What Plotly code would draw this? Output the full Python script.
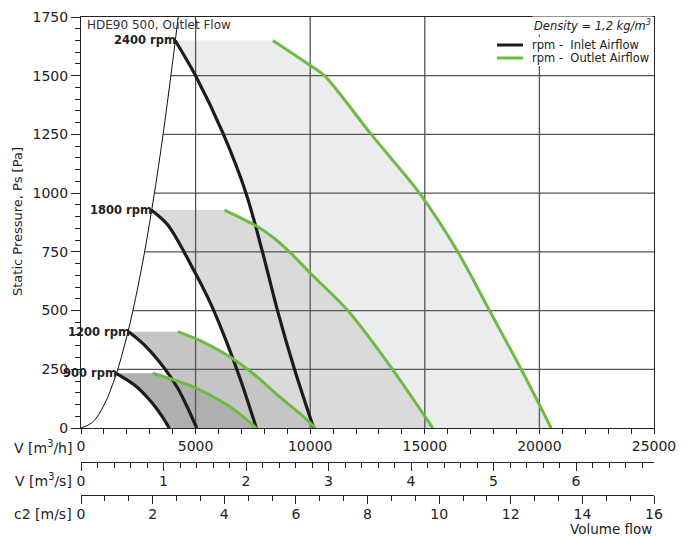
import plotly.graph_objects as go
import numpy as np

# ---------------- data ----------------
rpm_labels = ["900 rpm", "1200 rpm", "1800 rpm", "2400 rpm"]

inlet_900_v = [1535, 2334, 3062, 3500, 3850]
inlet_900_p = [233, 183, 112, 55, 0]
outlet_900_v = [3134, 4079, 4879, 6300, 6990, 7650]
outlet_900_p = [233, 204, 176, 103, 55, 0]

inlet_1200_v = [2080, 2771, 3643, 4224, 4660, 5050]
inlet_1200_p = [410, 353, 254, 169, 84, 0]
outlet_1200_v = [4224, 5315, 6479, 7496, 8661, 9533, 10230]
outlet_1200_p = [410, 367, 304, 233, 133, 63, 0]

inlet_1800_v = [3062, 3788, 4952, 5681, 6405, 6990, 7650]
inlet_1800_p = [928, 864, 666, 524, 353, 197, 0]
outlet_1800_v = [6261, 7714, 8400, 9097, 10000, 11641, 13590, 15349]
outlet_1800_p = [928, 857, 810, 750, 660, 500, 250, 0]

inlet_2400_v = [4110, 5000, 6217, 7200, 7917, 8573, 9315, 10150]
inlet_2400_p = [1650, 1500, 1250, 1000, 750, 500, 250, 0]
outlet_2400_v = [8369, 9970, 10625, 12661, 14769, 16440, 17823, 19205, 20513]
outlet_2400_p = [1650, 1546, 1500, 1250, 1000, 750, 500, 250, 0]

system_v = [0, 500, 1000, 1500, 2000, 2500, 3000, 3500, 4000, 4240]
system_p = [0, 24, 97, 219, 390, 609, 877, 1194, 1560, 1750]

grid_v = [5000, 10000, 15000, 20000]
grid_p = [250, 500, 750, 1000, 1250, 1500]

x_max_m3h = 25000
x_max_m3s = 25000 / 3600
x_max_c2 = 16

# ---------------- styling ----------------
FONT = "DejaVu Sans"
BLACK = "#1c1c1c"
GREEN = "#6dbb45"
FILLS = {"2400": "#ebecee", "1800": "#dadada", "1200": "#c6c5c5", "900": "#b0afaf"}
GRID = "#555555"

series = [
    ("2400", inlet_2400_v, inlet_2400_p, outlet_2400_v, outlet_2400_p, rpm_labels[3]),
    ("1800", inlet_1800_v, inlet_1800_p, outlet_1800_v, outlet_1800_p, rpm_labels[2]),
    ("1200", inlet_1200_v, inlet_1200_p, outlet_1200_v, outlet_1200_p, rpm_labels[1]),
    ("900", inlet_900_v, inlet_900_p, outlet_900_v, outlet_900_p, rpm_labels[0]),
]

fig = go.Figure()

# shaded working areas
for key, iv, ip, ov, op, _ in series:
    fig.add_trace(go.Scatter(
        x=iv + ov[::-1], y=ip + op[::-1], mode="lines", fill="toself",
        fillcolor=FILLS[key], line=dict(width=0), hoverinfo="skip", showlegend=False))

# grid lines (drawn as traces so they sit above the shading)
for gv in grid_v:
    fig.add_trace(go.Scatter(x=[gv, gv], y=[0, 1750], mode="lines",
                             line=dict(color=GRID, width=1.3), hoverinfo="skip", showlegend=False))
for gp in grid_p:
    start = float(np.interp(gp, system_p, system_v))
    fig.add_trace(go.Scatter(x=[start, x_max_m3h], y=[gp, gp], mode="lines",
                             line=dict(color=GRID, width=1.3), hoverinfo="skip", showlegend=False))

# system curve
fig.add_trace(go.Scatter(x=system_v, y=system_p, mode="lines", line=dict(color="#111", width=1, shape="spline"),
                         hoverinfo="skip", showlegend=False))

# inlet curves
for i, (key, iv, ip, ov, op, _) in enumerate(series):
    fig.add_trace(go.Scatter(x=iv, y=ip, mode="lines", name="rpm -  Inlet Airflow",
                             line=dict(color=BLACK, width=3.2, shape="spline", smoothing=0.9),
                             showlegend=False))
# outlet curves
for i, (key, iv, ip, ov, op, _) in enumerate(series):
    fig.add_trace(go.Scatter(x=ov, y=op, mode="lines", name="rpm -  Outlet Airflow",
                             line=dict(color=GREEN, width=3, shape="spline", smoothing=0.8),
                             showlegend=False))

# dummy traces to attach the secondary flow axes
fig.add_trace(go.Scatter(x=[0, x_max_m3s], y=[0, 0], xaxis="x2", yaxis="y", mode="lines",
                         line=dict(width=1, color="rgba(0,0,0,0)"), hoverinfo="skip", showlegend=False))
fig.add_trace(go.Scatter(x=[0, x_max_c2], y=[0, 0], xaxis="x3", yaxis="y", mode="lines",
                         line=dict(width=1, color="rgba(0,0,0,0)"), hoverinfo="skip", showlegend=False))

# ---------------- layout ----------------
# page has an 8px body margin; sizes below are for the figure itself
OFF = 8
W, H = 694 - OFF, 536 - OFF
ML, MR, MT, MB = 81 - OFF, 40, 17 - OFF, 20
PW = W - ML - MR
PH = H - MT - MB


def fx(px):  # page pixel -> paper x
    return (px - OFF - ML) / PW


def fy(py):  # page pixel -> paper y
    return (H - MB - (py - OFF)) / PH


tickfont = dict(family=FONT, size=14, color="#222")
axis_common = dict(showline=True, linecolor="#222", linewidth=1, ticks="outside", tickcolor="#222",
                   showgrid=False, zeroline=False, tickfont=tickfont)

annotations = []
for key, iv, ip, ov, op, label in series:
    annotations.append(dict(x=iv[0], y=ip[0], xref="x", yref="y", text="<b>" + label + "</b>",
                            showarrow=False, xanchor="right", yanchor="middle", xshift=3,
                            font=dict(family=FONT, size=11.5, color="#222")))

legend_items = [("rpm -\u00a0 Inlet Airflow", BLACK, 45), ("rpm -\u00a0 Outlet Airflow", GREEN, 58)]

annotations += [
    dict(x=fx(85), y=fy(25), xref="paper", yref="paper", text="HDE90 500, Outlet Flow", showarrow=False,
         xanchor="left", yanchor="middle", font=dict(family=FONT, size=12, color="#333")),
    dict(x=1, y=fy(25), xref="paper", yref="paper", text="<i>Density = 1,2 kg/m<sup>3</sup></i>",
         showarrow=False, xanchor="right", yanchor="middle", xshift=-1, bgcolor="white",
         font=dict(family=FONT, size=11.5, color="#222")),
    dict(x=fx(74), y=fy(447), xref="paper", yref="paper", text="V [m<sup>3</sup>/h]", showarrow=False,
         xanchor="right", yanchor="middle", font=dict(family=FONT, size=14, color="#222")),
    dict(x=fx(74), y=fy(480), xref="paper", yref="paper", text="V [m<sup>3</sup>/s]", showarrow=False,
         xanchor="right", yanchor="middle", font=dict(family=FONT, size=14, color="#222")),
    dict(x=fx(74), y=fy(514), xref="paper", yref="paper", text="c2 [m/s]", showarrow=False,
         xanchor="right", yanchor="middle", font=dict(family=FONT, size=14, color="#222")),
    dict(x=1, y=fy(529), xref="paper", yref="paper", text="Volume flow", showarrow=False,
         xanchor="right", yanchor="middle", font=dict(family=FONT, size=13.5, color="#222")),
    dict(x=fx(18), y=fy(222), xref="paper", yref="paper", text="Static Pressure, Ps [Pa]", showarrow=False,
         textangle=-90, xanchor="center", yanchor="middle", font=dict(family=FONT, size=13, color="#222")),
]
for text, color, py in legend_items:
    annotations.append(dict(x=fx(531), y=fy(py), xref="paper", yref="paper", text=text, showarrow=False,
                            xanchor="left", yanchor="middle", xshift=-1,
                            font=dict(family=FONT, size=11.5, color="#222")))

shapes = [dict(type="rect", xref="paper", yref="paper", x0=fx(494), x1=fx(653), y0=fy(66), y1=fy(37),
               fillcolor="white", line=dict(width=0), layer="above")]
for text, color, py in legend_items:
    shapes.append(dict(type="line", xref="paper", yref="paper", x0=fx(497), x1=fx(523), y0=fy(py), y1=fy(py),
                       line=dict(color=color, width=3), layer="above"))

fig.update_layout(
    width=W, height=H,
    margin=dict(l=ML, r=MR, t=MT, b=MB, autoexpand=False),
    paper_bgcolor="white", plot_bgcolor="white",
    font=dict(family=FONT, color="#222"),
    xaxis=dict(range=[0, x_max_m3h], anchor="y", dtick=5000, tick0=0, ticklen=5, mirror=True, tickformat="d",
               minor=dict(dtick=1000, ticks="outside", ticklen=5, tickcolor="#222"), **axis_common),
    yaxis=dict(range=[0, 1750], domain=[fy(428), 1], dtick=250, tick0=0, ticklen=9, mirror=True, tickformat="d",
               minor=dict(dtick=50, ticks="outside", ticklen=5, tickcolor="#222"), **axis_common),
    xaxis2=dict(range=[0, x_max_m3s], overlaying="x", anchor="free", position=fy(461.5), side="bottom",
                dtick=1, tick0=0, ticklen=8, ticklabelstandoff=-1,
                minor=dict(dtick=0.2, ticks="outside", ticklen=5, tickcolor="#222"), **axis_common),
    xaxis3=dict(range=[0, x_max_c2], overlaying="x", anchor="free", position=fy(495), side="bottom",
                dtick=2, tick0=0, ticklen=8, ticklabelstandoff=-2,
                minor=dict(dtick=2 / 3, tick0=0, ticks="outside", ticklen=5, tickcolor="#222"), **axis_common),
    annotations=annotations,
    shapes=shapes,
    showlegend=False,
)

fig.write_html("out.html")
